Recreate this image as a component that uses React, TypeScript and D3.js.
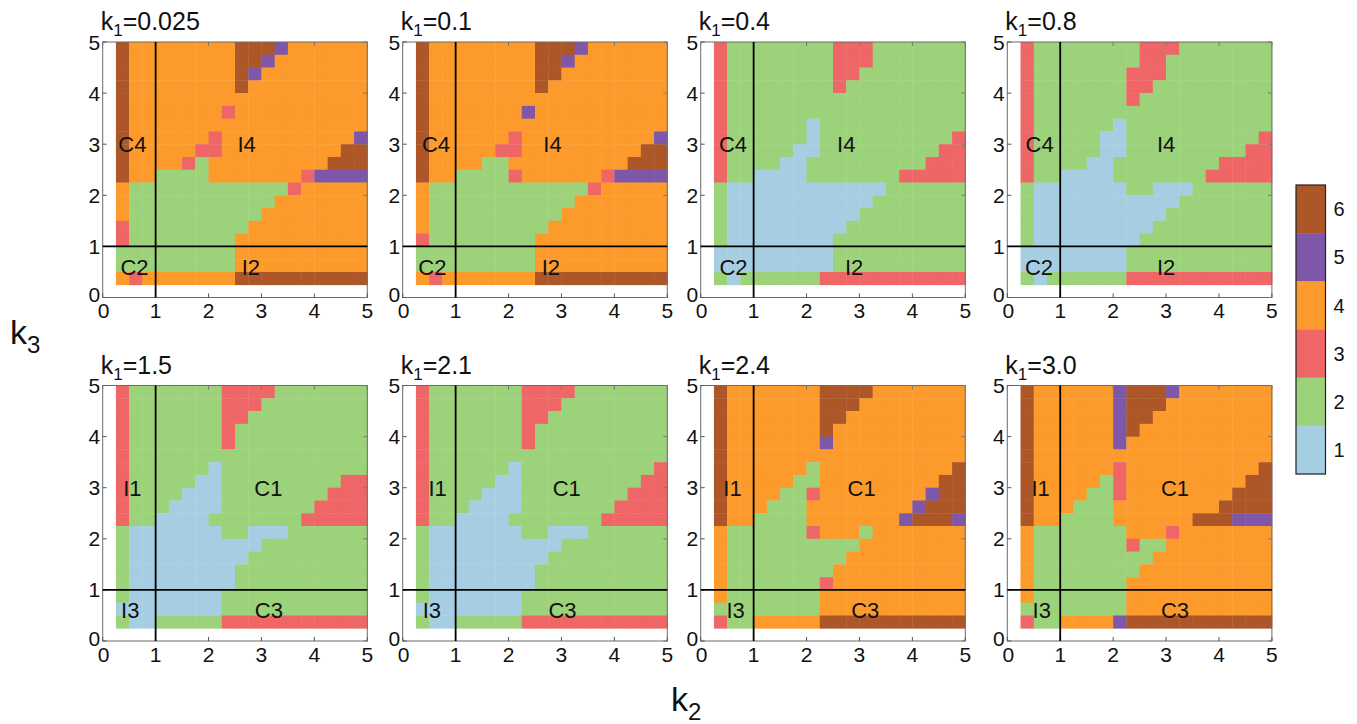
import React from 'react';
import * as d3 from 'd3';

// ---------- data ----------
const k1Labels = ['0.025', '0.1', '0.4', '0.8', '1.5', '2.1', '2.4', '3.0'];
// cell edges along k2 and k3 (cells are 0.25 wide, from 0.25 to 5)
const cellEdges = [0.25, 0.5, 0.75, 1.0, 1.25, 1.5, 1.75, 2.0, 2.25, 2.5, 2.75, 3.0, 3.25, 3.5, 3.75, 4.0, 4.25, 4.5, 4.75, 5.0];
const axisTicks = [0, 1, 2, 3, 4, 5];
const colorLevels = [1, 2, 3, 4, 5, 6];
const levelColors = ['#a6cee3', '#9cd27a', '#ef6666', '#fd9a2c', '#7e57a8', '#ad5729'];

// each string = one row of cells, top row (k3 = 4.75..5) first, columns k2 = 0.25..5
const phaseK1_0025 = [
  '6444444446665444444',
  '6444444446654444444',
  '6444444446544444444',
  '6444444446444444444',
  '6444444444444444444',
  '6444444434444444444',
  '6444444444444444444',
  '6444444344444444445',
  '6444443344444444466',
  '6444432444444444666',
  '6442222444444435555',
  '4222222222222344444',
  '4222222222224444444',
  '4222222222244444444',
  '3222222222444444444',
  '3222222224444444444',
  '2222222224444444444',
  '2222222224444444444',
  '4344444446666666666',
];
const phaseK1_01 = [
  '6444444446665444444',
  '6444444446654444444',
  '6444444446644444444',
  '6444444446444444444',
  '6444444444444444444',
  '6444444454444444444',
  '6444444444444444444',
  '6444444344444444445',
  '6444443344444444466',
  '6444422444444444666',
  '6442222344444435555',
  '4222222222222344444',
  '4222222222224444444',
  '4222222222244444444',
  '4222222222444444444',
  '3222222224444444444',
  '2222222224444444444',
  '2222222224444444444',
  '4344444446666666666',
];
const phaseK1_04 = [
  '3222222223332222222',
  '3222222223332222222',
  '3222222223322222222',
  '3222222223222222222',
  '3222222222222222222',
  '3222222222222222222',
  '3222222122222222222',
  '3222222122222222223',
  '3222221122222222233',
  '3222211222222222333',
  '3221111222222233333',
  '2111111111111222222',
  '2111111111112222222',
  '2111111111122222222',
  '2111111111222222222',
  '2111111112222222222',
  '1111111112222222222',
  '1111111112222222222',
  '2122222233333333333',
];
const phaseK1_08 = [
  '3222222223332222222',
  '3222222223322222222',
  '3222222233322222222',
  '3222222233222222222',
  '3222222232222222222',
  '3222222222222222222',
  '3222222122222222222',
  '3222221122222222223',
  '3222221122222222233',
  '3222211222222223333',
  '3221111222222233333',
  '2111111122111222222',
  '2111111111112222222',
  '2111111111122222222',
  '2111111111222222222',
  '2111111112222222222',
  '1111111122222222222',
  '1111111122222222222',
  '2122222233333333333',
];
const phaseK1_15 = [
  '3222222233332222222',
  '3222222233322222222',
  '3222222233222222222',
  '3222222232222222222',
  '3222222232222222222',
  '3222222222222222222',
  '3222222122222222222',
  '3222221122222222233',
  '3222211122222222333',
  '3222111122222223333',
  '3221111222222233333',
  '2111111122111222222',
  '2111111111122222222',
  '2111111111222222222',
  '2111111112222222222',
  '2111111112222222222',
  '2111111122222222222',
  '1111111122222222222',
  '2112222233333333333',
];
const phaseK1_21 = [
  '3222222233332222222',
  '3222222233322222222',
  '3222222233222222222',
  '3222222232222222222',
  '3222222232222222222',
  '3222222222222222222',
  '3222222122222222223',
  '3222221122222222233',
  '3222211122222222333',
  '3222111122222223333',
  '3221111222222233333',
  '2111111122111222222',
  '2111111111122222222',
  '2111111111222222222',
  '2111111112222222222',
  '2111111112222222222',
  '2111111122222222222',
  '1111111122222222222',
  '2112222233333333333',
];
const phaseK1_24 = [
  '6444444466664444444',
  '6444444466644444444',
  '6444444466444444444',
  '6444444464444444444',
  '6444444454444444444',
  '6444444444444444444',
  '6444444244444444446',
  '6444442244444444466',
  '6444422344444444566',
  '6444222444444445666',
  '6442222444444456665',
  '4222222344424444444',
  '4222222222244444444',
  '4222222222444444444',
  '4222222224444444444',
  '4222222234444444444',
  '4222222244444444444',
  '2222222244444444444',
  '3224444466666666666',
];
const phaseK1_30 = [
  '6444444566654444444',
  '6444444566644444444',
  '6444444566444444444',
  '6444444564444444444',
  '6444444544444444444',
  '6444444444444444444',
  '6444444344444444446',
  '6444442344444444466',
  '6444422344444444666',
  '6444222444444446666',
  '6442222444444666555',
  '4222222244434444444',
  '4222222232244444444',
  '4222222222444444444',
  '4222222224444444444',
  '4222222244444444444',
  '4222222244444444444',
  '2222222244444444444',
  '3224444566666666666',
];
const phaseGrids = [phaseK1_0025, phaseK1_01, phaseK1_04, phaseK1_08, phaseK1_15, phaseK1_21, phaseK1_24, phaseK1_30];

// region labels: [text, k2, k3]
const regionLabels: [string, number, number][][] = [
  [['C4', 0.56, 3.0], ['I4', 2.72, 3.0], ['C2', 0.6, 0.6], ['I2', 2.8, 0.6]],
  [['C4', 0.63, 3.0], ['I4', 2.83, 3.0], ['C2', 0.56, 0.6], ['I2', 2.8, 0.6]],
  [['C4', 0.61, 3.0], ['I4', 2.75, 3.0], ['C2', 0.62, 0.6], ['I2', 2.9, 0.6]],
  [['C4', 0.61, 3.0], ['I4', 3.0, 3.0], ['C2', 0.6, 0.6], ['I2', 3.0, 0.6]],
  [['I1', 0.56, 3.0], ['C1', 3.13, 3.0], ['I3', 0.52, 0.6], ['C3', 3.14, 0.6]],
  [['I1', 0.66, 3.0], ['C1', 3.1, 3.0], ['I3', 0.55, 0.6], ['C3', 3.02, 0.6]],
  [['I1', 0.6, 3.0], ['C1', 3.04, 3.0], ['I3', 0.66, 0.6], ['C3', 3.11, 0.6]],
  [['I1', 0.63, 3.0], ['C1', 3.17, 3.0], ['I3', 0.65, 0.6], ['C3', 3.17, 0.6]],
];

// ---------- layout ----------
const W = 1357;
const H = 724;
const panelLeft = [102.7, 402.7, 700.7, 1007.3];
const panelTop = [42, 385.5];
const panelW = 264.6;
const panelH = 255.5;
const FONT = '"Liberation Sans", Arial, Helvetica, sans-serif';

const color = d3.scaleOrdinal<number, string>().domain(colorLevels).range(levelColors);

function Panel({ idx }: { idx: number }) {
  const col = idx % 4;
  const row = Math.floor(idx / 4);
  const x0 = panelLeft[col];
  const y0 = panelTop[row];
  const xs = d3.scaleLinear().domain([0, 5]).range([x0, x0 + panelW]);
  const ys = d3.scaleLinear().domain([0, 5]).range([y0 + panelH, y0]);
  const grid = phaseGrids[idx];
  const nRows = grid.length;
  const cells: JSX.Element[] = [];
  grid.forEach((line, r) => {
    const yTop = cellEdges[nRows - r];
    const yBot = cellEdges[nRows - r - 1];
    line.split('').forEach((ch, c) => {
      const xa = xs(cellEdges[c]);
      const xb = xs(cellEdges[c + 1]);
      cells.push(
        <rect
          key={`${r}-${c}`}
          x={xa}
          y={ys(yTop)}
          width={xb - xa + 0.4}
          height={ys(yBot) - ys(yTop) + 0.4}
          fill={color(+ch)}
        />
      );
    });
  });
  const tickLen = 4;
  return (
    <g>
      {cells}
      {/* frame */}
      <rect x={x0} y={y0} width={panelW} height={panelH} fill="none" stroke="#6b6b6b" strokeWidth={1} />
      {axisTicks.map((t) => (
        <g key={`t${t}`}>
          <line x1={xs(t)} x2={xs(t)} y1={ys(0)} y2={ys(0) - tickLen} stroke="#555" />
          <line x1={xs(t)} x2={xs(t)} y1={ys(5)} y2={ys(5) + tickLen} stroke="#777" />
          <line x1={xs(0)} x2={xs(0) + tickLen} y1={ys(t)} y2={ys(t)} stroke="#555" />
          <line x1={xs(5)} x2={xs(5) - tickLen} y1={ys(t)} y2={ys(t)} stroke="#777" />
          <text x={xs(t) + (t === 0 ? 1 : 0)} y={ys(0) + 20.5} textAnchor="middle" fontSize={21} fontFamily={FONT} fill="#111">
            {t}
          </text>
          <text
            x={xs(0) - 2.5}
            y={ys(t) - (t === 0 ? 3 : 0)}
            dy="0.36em"
            textAnchor="end"
            fontSize={21}
            fontFamily={FONT}
            fill="#111"
          >
            {t}
          </text>
        </g>
      ))}
      {/* reference lines at k2 = 1 and k3 = 1 */}
      <line x1={xs(1)} x2={xs(1)} y1={ys(0)} y2={ys(5)} stroke="#000" strokeWidth={1.8} />
      <line x1={xs(0)} x2={xs(5)} y1={ys(1)} y2={ys(1)} stroke="#000" strokeWidth={1.8} />
      {regionLabels[idx].map(([txt, kx, ky]) => (
        <text key={txt} x={xs(kx)} y={ys(ky)} dy="0.36em" textAnchor="middle" fontSize={22} fontFamily={FONT} fill="#111">
          {txt}
        </text>
      ))}
      <text x={x0 - 2} y={y0 - 12} fontSize={25} fontFamily={FONT} fill="#111">
        k
        <tspan fontSize={17} dy={6}>1</tspan>
        <tspan dy={-6}>={k1Labels[idx]}</tspan>
      </text>
    </g>
  );
}

function ColorBar() {
  const x = 1296;
  const w = 29.5;
  const y0 = 185;
  const y1 = 474;
  const band = d3.scaleBand<number>().domain([...colorLevels].reverse()).range([y0, y1]);
  return (
    <g>
      {band.domain().map((lv) => (
        <g key={lv}>
          <rect x={x} y={band(lv)!} width={w} height={band.bandwidth() + 0.3} fill={color(lv)} />
          <text x={x + w + 8} y={band(lv)! + band.bandwidth() / 2} dy="0.36em" fontSize={20} fontFamily={FONT} fill="#111">
            {lv}
          </text>
        </g>
      ))}
      <rect x={x} y={y0} width={w} height={y1 - y0} fill="none" stroke="#222" strokeWidth={1.2} />
    </g>
  );
}

export default function App() {
  return (
    <svg
      width={W}
      height={H}
      viewBox={`0 0 ${W} ${H}`}
      style={{ position: 'absolute', left: 0, top: 0, background: '#fff' }}
    >
      <rect x={0} y={0} width={W} height={H} fill="#fff" />
      {phaseGrids.map((_, i) => (
        <Panel key={i} idx={i} />
      ))}
      <ColorBar />
      <text x={10} y={344} fontSize={34} fontFamily={FONT} fill="#111">
        k<tspan fontSize={24} dy={9}>3</tspan>
      </text>
      <text x={671} y={711} fontSize={34} fontFamily={FONT} fill="#111">
        k<tspan fontSize={24} dy={9}>2</tspan>
      </text>
    </svg>
  );
}
